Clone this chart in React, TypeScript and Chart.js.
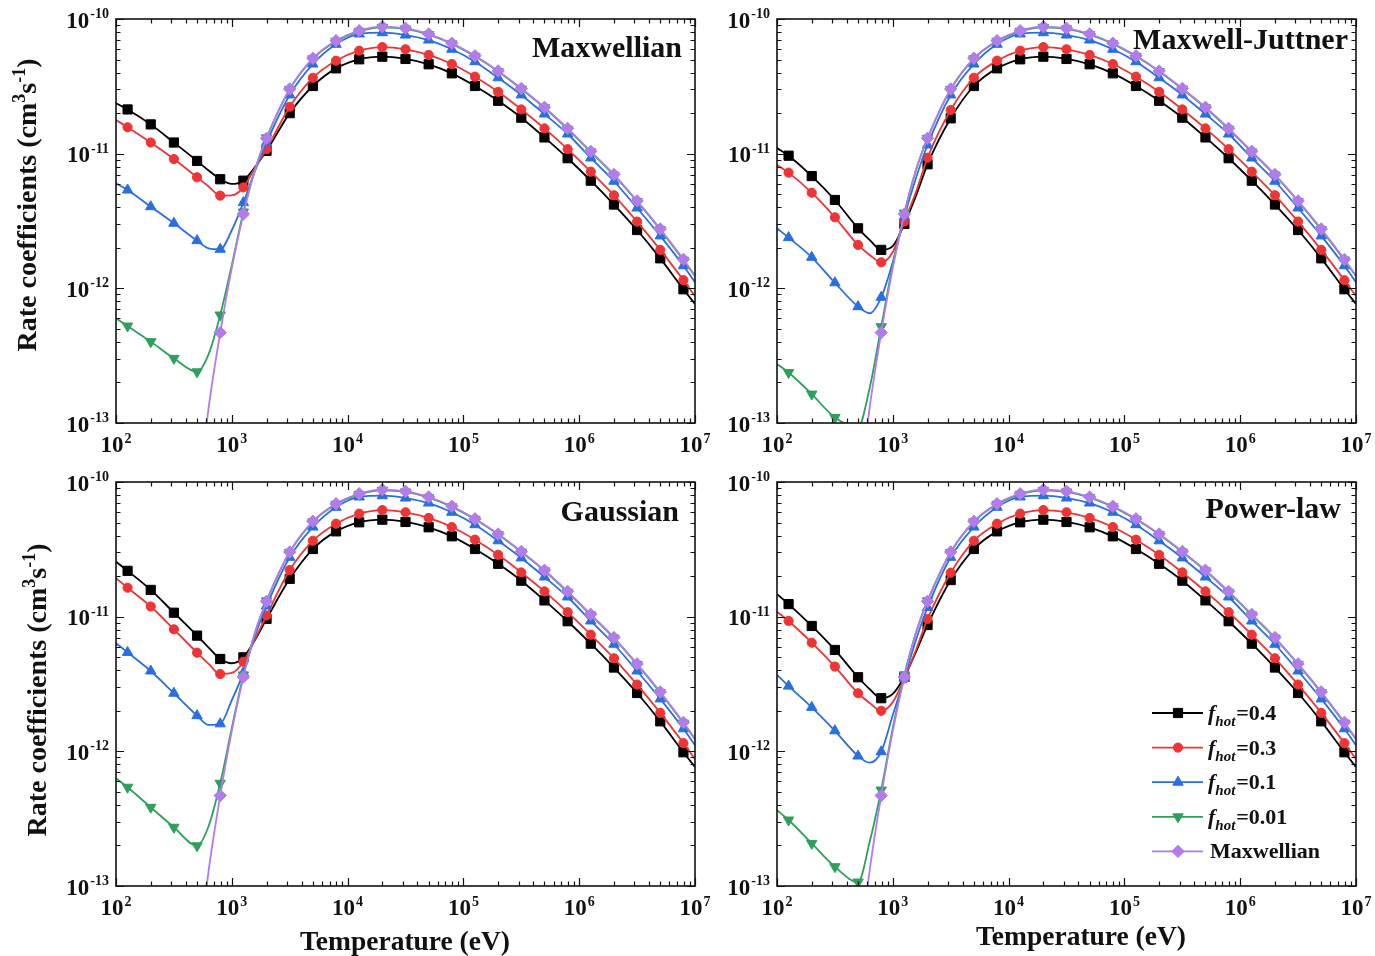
import React, { useEffect, useRef } from 'react';
import { Chart, registerables } from 'chart.js';

Chart.register(...registerables);

const SERIF = "'Liberation Serif', 'Times New Roman', Times, serif";

// ---------- DATA ----------
// Temperature grid (eV): 10^2.0, 10^2.1, 10^2.3, 10^2.5, 10^2.7, 10^2.8, 10^2.9, 10^3.0, 10^3.1, 10^3.2, 10^3.3, 10^3.5,
// then 10^3.7 ... 10^6.9 every 0.2 decade, and 10^7.0
const TEMPERATURE_EV = [
  100, 125.9, 199.5, 316.2, 501.2, 631.0, 794.3, 1000, 1258.9, 1584.9, 1995.3, 3162.3,
  5011.9, 7943.3, 12589, 19953, 31623, 50119, 79433, 125893, 199526, 316228, 501187,
  794328, 1258925, 1995262, 3162278, 5011872, 7943282, 10000000,
];
// grid points that are line vertices only (no symbol drawn)
const UNMARKED_INDEX = [0, 5, 7, 9, 29];

const X_DECADES = [2, 3, 4, 5, 6, 7];
const Y_DECADES = [-10, -11, -12, -13];
const PANEL_TITLES = ['Maxwellian', 'Maxwell-Juttner', 'Gaussian', 'Power-law'];
const FHOT_LABELS = ['0.4', '0.3', '0.1', '0.01'];
const MAXWELLIAN_LABEL = 'Maxwellian';
const X_TITLE = 'Temperature (eV)';

// High-temperature branch (10^3.7 ... 10^7 eV) – same in all four panels
const HIGH_FHOT_04 = [3.18e-11, 4.30e-11, 5.02e-11, 5.25e-11, 5.05e-11, 4.61e-11, 3.95e-11, 3.18e-11, 2.47e-11, 1.85e-11, 1.32e-11, 9.25e-12, 6.30e-12, 4.19e-12, 2.71e-12, 1.67e-12, 9.84e-13, 7.66e-13];
const HIGH_FHOT_03 = [3.66e-11, 4.90e-11, 5.82e-11, 6.19e-11, 5.96e-11, 5.41e-11, 4.63e-11, 3.73e-11, 2.88e-11, 2.13e-11, 1.54e-11, 1.08e-11, 7.35e-12, 4.91e-12, 3.13e-12, 1.93e-12, 1.15e-12, 8.77e-13];
const HIGH_FHOT_01 = [4.63e-11, 6.49e-11, 7.74e-11, 7.91e-11, 7.60e-11, 6.98e-11, 5.96e-11, 4.82e-11, 3.66e-11, 2.73e-11, 1.97e-11, 1.40e-11, 9.29e-12, 6.24e-12, 3.95e-12, 2.45e-12, 1.47e-12, 1.11e-12];
const HIGH_FHOT_001 = [5.06e-11, 6.83e-11, 8.10e-11, 8.68e-11, 8.44e-11, 7.66e-11, 6.54e-11, 5.28e-11, 4.07e-11, 3.02e-11, 2.19e-11, 1.52e-11, 1.03e-11, 6.93e-12, 4.42e-12, 2.73e-12, 1.62e-12, 1.23e-12];
const HIGH_MAXWELLIAN = [5.11e-11, 6.90e-11, 8.18e-11, 8.77e-11, 8.53e-11, 7.74e-11, 6.61e-11, 5.33e-11, 4.11e-11, 3.05e-11, 2.21e-11, 1.54e-11, 1.04e-11, 7.00e-12, 4.46e-12, 2.76e-12, 1.64e-12, 1.24e-12];

// Low-temperature branch (10^2.0 ... 10^3.5 eV)
const LOW_MAXWELLIAN = [null, null, null, null, 2.4e-14, 1.30e-13, 4.69e-13, 1.42e-12, 3.56e-12, 7.57e-12, 1.30e-11, 3.02e-11];

// Panel (a) Maxwellian hot component
const MAXW_FHOT_04 = [2.37e-11, 2.13e-11, 1.65e-11, 1.21e-11, 8.83e-12, 7.50e-12, 6.46e-12, 5.96e-12, 6.30e-12, 7.96e-12, 1.05e-11, 2.00e-11];
const MAXW_FHOT_03 = [1.78e-11, 1.57e-11, 1.21e-11, 9.12e-12, 6.68e-12, 5.70e-12, 4.88e-12, 4.90e-12, 5.62e-12, 7.83e-12, 1.08e-11, 2.23e-11];
const MAXW_FHOT_01 = [6.03e-12, 5.37e-12, 4.04e-12, 3.04e-12, 2.26e-12, 1.98e-12, 1.95e-12, 2.70e-12, 4.33e-12, 7.43e-12, 1.21e-11, 2.73e-11];
const MAXW_FHOT_001 = [6.00e-13, 5.25e-13, 4.02e-13, 3.02e-13, 2.40e-13, 3.25e-13, 6.34e-13, 1.49e-12, 3.69e-12, 7.60e-12, 1.31e-11, 3.00e-11];

// Panel (b) Maxwell-Juttner hot component
const MJ_FHOT_04 = [1.10e-11, 9.66e-12, 6.82e-12, 4.53e-12, 2.79e-12, 2.29e-12, 1.93e-12, 2.06e-12, 3.01e-12, 4.85e-12, 8.34e-12, 1.83e-11];
const MJ_FHOT_03 = [8.24e-12, 7.23e-12, 5.13e-12, 3.37e-12, 2.10e-12, 1.77e-12, 1.56e-12, 1.86e-12, 3.13e-12, 5.19e-12, 9.33e-12, 2.11e-11];
const MJ_FHOT_01 = [2.79e-12, 2.38e-12, 1.70e-12, 1.10e-12, 7.31e-13, 6.53e-13, 8.57e-13, 1.57e-12, 3.40e-12, 6.59e-12, 1.16e-11, 2.73e-11];
const MJ_FHOT_001 = [2.74e-13, 2.37e-13, 1.64e-13, 1.10e-13, 9.3e-14, 1.82e-13, 5.19e-13, 1.50e-12, 3.62e-12, 7.55e-12, 1.30e-11, 3.00e-11];

// Panel (c) Gaussian hot component
const GAUSS_FHOT_04 = [2.56e-11, 2.19e-11, 1.58e-11, 1.07e-11, 7.23e-12, 5.90e-12, 4.85e-12, 4.51e-12, 4.99e-12, 6.71e-12, 9.62e-12, 1.91e-11];
const GAUSS_FHOT_03 = [1.93e-11, 1.64e-11, 1.19e-11, 8.05e-12, 5.40e-12, 4.46e-12, 3.75e-12, 3.82e-12, 4.63e-12, 6.80e-12, 1.02e-11, 2.22e-11];
const GAUSS_FHOT_01 = [6.34e-12, 5.43e-12, 3.95e-12, 2.70e-12, 1.84e-12, 1.57e-12, 1.60e-12, 2.40e-12, 3.84e-12, 7.18e-12, 1.20e-11, 2.76e-11];
const GAUSS_FHOT_001 = [6.31e-13, 5.41e-13, 3.84e-13, 2.73e-13, 1.99e-13, 2.79e-13, 5.79e-13, 1.49e-12, 3.69e-12, 7.60e-12, 1.31e-11, 3.00e-11];

// Panel (d) Power-law hot component
const POW_FHOT_04 = [1.47e-11, 1.24e-11, 8.53e-12, 5.66e-12, 3.55e-12, 2.90e-12, 2.48e-12, 2.67e-12, 3.58e-12, 5.47e-12, 8.67e-12, 1.87e-11];
const POW_FHOT_03 = [1.09e-11, 9.29e-12, 6.41e-12, 4.26e-12, 2.70e-12, 2.29e-12, 2.00e-12, 2.32e-12, 3.48e-12, 5.66e-12, 9.62e-12, 2.12e-11];
const POW_FHOT_01 = [3.69e-12, 3.05e-12, 2.12e-12, 1.42e-12, 9.23e-13, 8.24e-13, 9.93e-13, 1.86e-12, 3.48e-12, 6.71e-12, 1.17e-11, 2.76e-11];
const POW_FHOT_001 = [3.66e-13, 3.09e-13, 2.07e-13, 1.39e-13, 1.07e-13, 2.12e-13, 5.16e-13, 1.49e-12, 3.69e-12, 7.60e-12, 1.31e-11, 3.00e-11];

// ---------- STYLES ----------
const SERIES_STYLE = [
  { color: '#000000', style: 'rect', radius: 6.5, rotation: 0, order: 4 },
  { color: '#ee3434', style: 'circle', radius: 4.6, rotation: 0, order: 3 },
  { color: '#2a6fe0', style: 'triangle', radius: 6, rotation: 0, order: 2 },
  { color: '#2fa05c', style: 'triangle', radius: 6, rotation: 180, order: 1 },
  { color: '#b27ceb', style: 'rectRot', radius: 6.2, rotation: 0, order: 0 },
];

type Pad = { left: number; top: number; right: number; bottom: number };
type Spec = {
  key: string; title: string; titleRight: number; titleBaseline: number;
  left: number; top: number; width: number; height: number; pad: Pad;
  low: (number | null)[][];
  yTitle?: { x: number; y: number };
  xTitle?: { x: number; y: number };
  legend?: { x: number; y: number; dy: number };
};

const PANELS: Spec[] = [
  {
    key: 'a', title: PANEL_TITLES[0], titleRight: 682, titleBaseline: 56.5,
    left: 0, top: 0, width: 722, height: 470, pad: { left: 116, top: 19, right: 27, bottom: 47 },
    low: [MAXW_FHOT_04, MAXW_FHOT_03, MAXW_FHOT_01, MAXW_FHOT_001],
    yTitle: { x: 27, y: 205 },
  },
  {
    key: 'b', title: PANEL_TITLES[1], titleRight: 648, titleBaseline: 49,
    left: 700, top: 0, width: 675, height: 470, pad: { left: 77, top: 19, right: 19, bottom: 47 },
    low: [MJ_FHOT_04, MJ_FHOT_03, MJ_FHOT_01, MJ_FHOT_001],
  },
  {
    key: 'c', title: PANEL_TITLES[2], titleRight: 679, titleBaseline: 51,
    left: 0, top: 470, width: 722, height: 486, pad: { left: 116, top: 12, right: 27, bottom: 70 },
    low: [GAUSS_FHOT_04, GAUSS_FHOT_03, GAUSS_FHOT_01, GAUSS_FHOT_001],
    yTitle: { x: 37, y: 220 },
    xTitle: { x: 405, y: 480 },
  },
  {
    key: 'd', title: PANEL_TITLES[3], titleRight: 641, titleBaseline: 48,
    left: 700, top: 470, width: 675, height: 486, pad: { left: 77, top: 12, right: 19, bottom: 70 },
    low: [POW_FHOT_04, POW_FHOT_03, POW_FHOT_01, POW_FHOT_001],
    xTitle: { x: 381, y: 475 },
    legend: { x: 452, y: 243, dy: 34.6 },
  },
];

const HIGH = [HIGH_FHOT_04, HIGH_FHOT_03, HIGH_FHOT_01, HIGH_FHOT_001, HIGH_MAXWELLIAN];

function buildPoints(low: (number | null)[], high: number[]) {
  const ys = [...low, ...high];
  return TEMPERATURE_EV.map((t, i) => ({ x: t, y: ys[i] }));
}

function drawMarker(ctx: CanvasRenderingContext2D, style: string, rotation: number, x: number, y: number, r: number) {
  ctx.beginPath();
  if (style === 'rect') {
    const s = Math.SQRT1_2 * r;
    ctx.rect(x - s, y - s, 2 * s, 2 * s);
  } else if (style === 'circle') {
    ctx.arc(x, y, r, 0, Math.PI * 2);
  } else if (style === 'triangle') {
    let rad = (rotation * Math.PI) / 180;
    for (let k = 0; k < 3; k++) {
      const px = x + Math.sin(rad) * r;
      const py = y - Math.cos(rad) * r;
      if (k === 0) ctx.moveTo(px, py); else ctx.lineTo(px, py);
      rad += (2 * Math.PI) / 3;
    }
    ctx.closePath();
  } else if (style === 'rectRot') {
    ctx.moveTo(x, y - r); ctx.lineTo(x + r, y); ctx.lineTo(x, y + r); ctx.lineTo(x - r, y);
    ctx.closePath();
  }
  ctx.fill();
  ctx.stroke();
}

function drawPow(ctx: CanvasRenderingContext2D, exp: string, x: number, baseline: number, align: 'center' | 'right') {
  const baseFont = `bold 23px ${SERIF}`;
  const supFont = `bold 14px ${SERIF}`;
  ctx.font = baseFont;
  const wb = ctx.measureText('10').width;
  ctx.font = supFont;
  const we = ctx.measureText(exp).width;
  const total = wb + 1 + we;
  const x0 = align === 'center' ? x - total / 2 : x - total;
  ctx.font = baseFont;
  ctx.fillText('10', x0, baseline);
  ctx.font = supFont;
  ctx.fillText(exp, x0 + wb + 1, baseline - 9.5);
}

function decorPlugin(spec: Spec) {
  return {
    id: 'decor' + spec.key,
    afterDraw(chart: any) {
      const { ctx, chartArea: a } = chart;
      const xs = chart.scales.x;
      const ys = chart.scales.y;
      ctx.save();
      ctx.strokeStyle = '#111';
      ctx.fillStyle = '#111';
      ctx.textAlign = 'left';
      ctx.textBaseline = 'alphabetic';

      // frame
      ctx.lineWidth = 1.6;
      ctx.strokeRect(a.left, a.top, a.right - a.left, a.bottom - a.top);

      // inward ticks on all four sides
      ctx.lineWidth = 1.2;
      ctx.beginPath();
      for (const d of X_DECADES) {
        for (let m = 1; m <= 9; m++) {
          if (d === X_DECADES[X_DECADES.length - 1] && m > 1) break;
          const px = Math.round(xs.getPixelForValue(m * Math.pow(10, d))) + 0.5;
          const len = m === 1 ? 8 : 4.5;
          ctx.moveTo(px, a.bottom); ctx.lineTo(px, a.bottom - len);
          ctx.moveTo(px, a.top); ctx.lineTo(px, a.top + len);
        }
      }
      for (const d of Y_DECADES) {
        for (let m = 1; m <= 9; m++) {
          if (d === Y_DECADES[0] && m > 1) break;
          const py = Math.round(ys.getPixelForValue(m * Math.pow(10, d))) + 0.5;
          const len = m === 1 ? 8 : 4.5;
          ctx.moveTo(a.left, py); ctx.lineTo(a.left + len, py);
          ctx.moveTo(a.right, py); ctx.lineTo(a.right - len, py);
        }
      }
      ctx.stroke();

      // tick labels
      for (const d of X_DECADES) {
        const px = xs.getPixelForValue(Math.pow(10, d));
        drawPow(ctx, String(d), px, a.bottom + 29, 'center');
      }
      for (const d of Y_DECADES) {
        const py = ys.getPixelForValue(Math.pow(10, d));
        drawPow(ctx, String(d), a.left - 7, py + 8.5, 'right');
      }

      // panel title
      ctx.font = `bold 30px ${SERIF}`;
      ctx.textAlign = 'right';
      ctx.fillText(spec.title, spec.titleRight, spec.titleBaseline);
      ctx.textAlign = 'left';

      // y-axis title
      if (spec.yTitle) {
        const parts: [string, boolean][] = [['Rate coefficients (cm', false], ['3', true], ['s', false], ['-1', true], [')', false]];
        const mainF = `bold 28px ${SERIF}`;
        const supF = `bold 18px ${SERIF}`;
        let total = 0;
        for (const [t, sup] of parts) { ctx.font = sup ? supF : mainF; total += ctx.measureText(t).width; }
        ctx.save();
        ctx.translate(spec.yTitle.x, spec.yTitle.y);
        ctx.rotate(-Math.PI / 2);
        let u = -total / 2;
        for (const [t, sup] of parts) {
          ctx.font = sup ? supF : mainF;
          ctx.fillText(t, u, sup ? 9 - 11 : 9);
          u += ctx.measureText(t).width;
        }
        ctx.restore();
      }

      // x-axis title
      if (spec.xTitle) {
        ctx.font = `bold 27.5px ${SERIF}`;
        ctx.textAlign = 'center';
        ctx.fillText(X_TITLE, spec.xTitle.x, spec.xTitle.y);
        ctx.textAlign = 'left';
      }

      // legend
      if (spec.legend) {
        const L = spec.legend;
        SERIES_STYLE.forEach((s, i) => {
          const y = L.y + i * L.dy;
          ctx.strokeStyle = s.color;
          ctx.fillStyle = s.color;
          ctx.lineWidth = 1.8;
          ctx.beginPath();
          ctx.moveTo(L.x, y); ctx.lineTo(L.x + 51, y);
          ctx.stroke();
          ctx.lineWidth = 1;
          drawMarker(ctx, s.style, s.rotation, L.x + 26, y, s.radius);
          ctx.fillStyle = '#111';
          const tx = L.x + 56;
          if (i < FHOT_LABELS.length) {
            ctx.font = `italic bold 22px ${SERIF}`;
            ctx.fillText('f', tx, y + 7);
            let x2 = tx + ctx.measureText('f').width;
            ctx.font = `italic bold 15px ${SERIF}`;
            ctx.fillText('hot', x2, y + 13);
            x2 += ctx.measureText('hot').width + 1;
            ctx.font = `bold 22px ${SERIF}`;
            ctx.fillText('=' + FHOT_LABELS[i], x2, y + 7);
          } else {
            ctx.font = `bold 22px ${SERIF}`;
            ctx.fillText(MAXWELLIAN_LABEL, tx + 2, y + 7);
          }
        });
      }
      ctx.restore();
    },
  };
}

function makeConfig(spec: Spec): any {
  const datasets = SERIES_STYLE.map((s, i) => {
    const low = i < 4 ? spec.low[i] : LOW_MAXWELLIAN;
    return {
      label: i < 4 ? 'fhot=' + FHOT_LABELS[i] : MAXWELLIAN_LABEL,
      data: buildPoints(low, HIGH[i]),
      borderColor: s.color,
      backgroundColor: s.color,
      pointBackgroundColor: s.color,
      pointBorderColor: s.color,
      borderWidth: 1.8,
      pointBorderWidth: 1,
      pointStyle: s.style,
      pointRotation: s.rotation,
      pointRadius: (c: any) => (UNMARKED_INDEX.includes(c.dataIndex) ? 0 : s.radius),
      pointHoverRadius: 0,
      cubicInterpolationMode: 'monotone',
      spanGaps: false,
      clip: 0,
      order: s.order,
    };
  });
  return {
    type: 'line',
    data: { datasets },
    options: {
      animation: false,
      responsive: false,
      devicePixelRatio: 1,
      events: [],
      layout: { padding: spec.pad },
      plugins: { legend: { display: false }, tooltip: { enabled: false }, title: { display: false } },
      scales: {
        x: { type: 'logarithmic', min: 100, max: 1e7, display: false },
        y: { type: 'logarithmic', min: 1e-13, max: 1e-10, display: false },
      },
    },
    plugins: [decorPlugin(spec)],
  };
}

function Panel({ spec }: { spec: Spec }) {
  const ref = useRef<HTMLCanvasElement>(null);
  useEffect(() => {
    const chart = new Chart(ref.current as HTMLCanvasElement, makeConfig(spec));
    return () => chart.destroy();
  }, [spec]);
  return (
    <canvas
      ref={ref}
      width={spec.width}
      height={spec.height}
      style={{ position: 'absolute', left: spec.left, top: spec.top, width: spec.width, height: spec.height, display: 'block' }}
    />
  );
}

export default function App() {
  return (
    <div style={{ position: 'fixed', left: 0, top: 0, width: 1375, height: 956, background: '#ffffff', overflow: 'hidden' }}>
      {PANELS.map((p) => (
        <Panel key={p.key} spec={p} />
      ))}
    </div>
  );
}
